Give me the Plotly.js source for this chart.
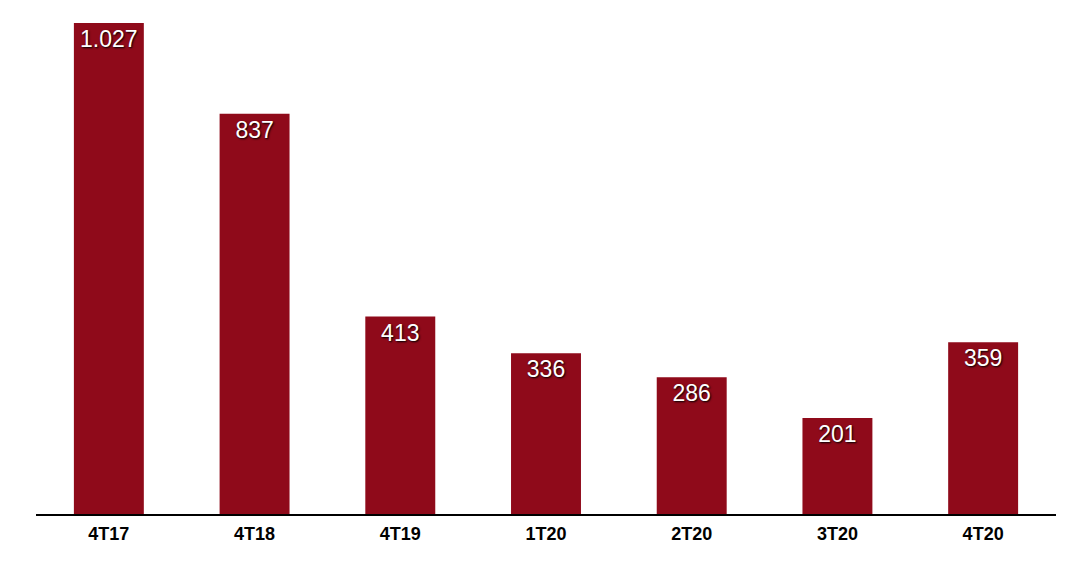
<!DOCTYPE html>
<html>
<head>
<meta charset="utf-8">
<script src="https://cdn.plot.ly/plotly-3.0.1.min.js"></script>
<style>html,body{margin:0;padding:0;background:#fff;}#chart{width:1091px;height:577px;}</style>
</head>
<body>
<div id="chart"></div>
<script>
const categories = ["4T17", "4T18", "4T19", "1T20", "2T20", "3T20", "4T20"];
const values = [1027, 837, 413, 336, 286, 201, 359];
const labels = ["1.027", "837", "413", "336", "286", "201", "359"];

const trace = {
  type: "bar",
  x: categories,
  y: values,
  text: labels,
  textposition: "inside",
  insidetextanchor: "end",
  textangle: 0,
  cliponaxis: false,
  textfont: {family: "Liberation Sans, Arial, sans-serif", size: 23, color: "#ffffff", shadow: "1px 1px 2px #000000"},
  marker: {color: "#8f0a1a"},
  hoverinfo: "none"
};

const layout = {
  width: 1091,
  height: 577,
  margin: {l: 36, r: 35, t: 23, b: 63},
  paper_bgcolor: "#ffffff",
  plot_bgcolor: "#ffffff",
  showlegend: false,
  bargap: 0.52,
  xaxis: {
    type: "category",
    showgrid: false,
    zeroline: false,
    showline: true,
    linecolor: "#000000",
    linewidth: 2,
    ticks: "",
    ticklabelstandoff: 2,
    tickfont: {family: "Liberation Sans, Arial, sans-serif", size: 18, color: "#000000", weight: "bold"}
  },
  yaxis: {
    range: [0, 1027],
    visible: false,
    showgrid: false,
    zeroline: false
  }
};

Plotly.newPlot("chart", [trace], layout, {displayModeBar: false, staticPlot: true});
</script>
</body>
</html>
